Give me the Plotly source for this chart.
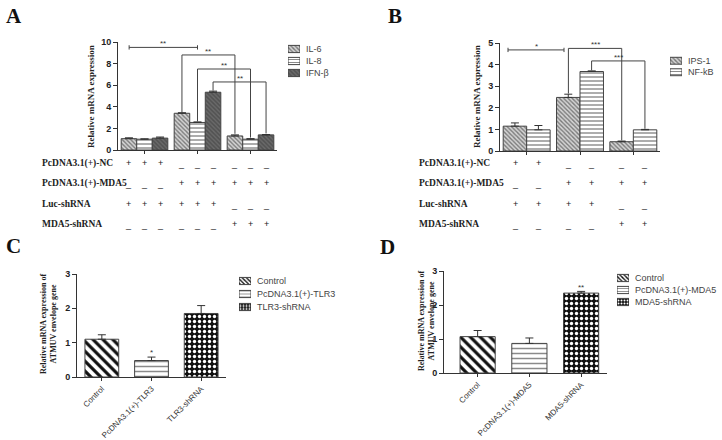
import plotly.graph_objects as go

W, H = 722, 440

# ---------------- data ----------------
a_groups = ["NC", "MDA5", "MDA5+shRNA"]
a_series = ["IL-6", "IL-8", "IFN-β"]
a_il6 = [1.05, 3.40, 1.30]
a_il6_err = [0.08, 0.05, 0.10]
a_il8 = [1.00, 2.55, 1.00]
a_il8_err = [0.03, 0.05, 0.05]
a_ifn = [1.10, 5.35, 1.40]
a_ifn_err = [0.10, 0.10, 0.03]

b_groups = ["NC", "MDA5", "MDA5+shRNA"]
b_series = ["IPS-1", "NF-kB"]
b_ips = [1.15, 2.48, 0.43]
b_ips_err = [0.15, 0.15, 0.03]
b_nfkb = [0.98, 3.68, 0.98]
b_nfkb_err = [0.20, 0.03, 0.02]

c_cats = ["Control", "PcDNA3.1(+)-TLR3", "TLR3-shRNA"]
c_vals = [1.10, 0.48, 1.85]
c_err = [0.13, 0.10, 0.23]

d_cats = ["Control", "PcDNA3.1(+)-MDA5", "MDA5-shRNA"]
d_vals = [1.07, 0.87, 2.35]
d_err = [0.18, 0.16, 0.05]

row_labels = ["PcDNA3.1(+)-NC", "PcDNA3.1(+)-MDA5", "Luc-shRNA", "MDA5-shRNA"]
a_table = [
    ["+", "+", "+", "_", "_", "_", "_", "_", "_"],
    ["_", "_", "_", "+", "+", "+", "+", "+", "+"],
    ["+", "+", "+", "+", "+", "+", "_", "_", "_"],
    ["_", "_", "_", "_", "_", "_", "+", "+", "+"],
]
b_table = [
    ["+", "+", "_", "_", "_", "_"],
    ["_", "_", "+", "+", "+", "+"],
    ["+", "+", "+", "+", "_", "_"],
    ["_", "_", "_", "_", "+", "+"],
]

# ---------------- styles ----------------
AX = "#333333"
SERIF = "Liberation Serif"
SANS = "Liberation Sans"
BAR_LINE = dict(color="#444444", width=1)

ab_styles = [
    dict(shape="\\", bgcolor="#d4d4d4", fgcolor="#7a7a7a", size=3, solidity=0.45),
    dict(shape="-", bgcolor="#ffffff", fgcolor="#8a8a8a", size=4, solidity=0.35),
    dict(shape="\\", bgcolor="#6a6a6a", fgcolor="#515151", size=3, solidity=0.5),
]
cd_styles = [
    dict(shape="\\", bgcolor="#ffffff", fgcolor="#111111", size=7, solidity=0.45),
    dict(shape="-", bgcolor="#ffffff", fgcolor="#8a8a8a", size=5, solidity=0.3),
    dict(shape=".", bgcolor="#111111", fgcolor="#ffffff", size=5, solidity=0.35),
]


def err(v):
    return dict(type="data", array=v, arrayminus=[0] * len(v), symmetric=False, visible=True,
                color="#333333", thickness=1, width=4)


def marker(st, size=None):
    p = dict(st)
    if size:
        p["size"] = size
    return dict(color=st["bgcolor"], line=BAR_LINE, pattern=dict(fillmode="replace", **p))


fig = go.Figure()

# Panel A bars
a_gap = 0.12
for name, vals, e, st in zip(a_series, [a_il6, a_il8, a_ifn],
                             [a_il6_err, a_il8_err, a_ifn_err], ab_styles):
    fig.add_trace(go.Bar(x=a_groups, y=vals, name=name, error_y=err(e), showlegend=False,
                         marker=marker(st), xaxis="x", yaxis="y"))

# Panel B bars
b_gap = 0.13
for name, vals, e, st in zip(b_series, [b_ips, b_nfkb], [b_ips_err, b_nfkb_err], ab_styles[:2]):
    fig.add_trace(go.Bar(x=b_groups, y=vals, name=name, error_y=err(e), showlegend=False,
                         marker=marker(st), xaxis="x2", yaxis="y2"))

# Panel C & D bars (one trace per bar so each gets its own fill pattern)
for cats, vals, e, xa, ya in [(c_cats, c_vals, c_err, "x3", "y3"),
                              (d_cats, d_vals, d_err, "x4", "y4")]:
    for i, cat in enumerate(cats):
        fig.add_trace(go.Bar(x=[cat], y=[vals[i]], name=cat, error_y=err([e[i]]),
                             width=0.68, offset=-0.34, showlegend=False,
                             marker=marker(cd_styles[i]), xaxis=xa, yaxis=ya))

# Legend swatches drawn as small horizontal bars in their own tiny axes
legend_specs = [
    ("x5", "y5", a_series, ab_styles, 3, 0.6),
    ("x6", "y6", b_series, ab_styles[:2], 3, 0.6),
    ("x7", "y7", c_cats, cd_styles, 3, 0.55),
    ("x8", "y8", d_cats, cd_styles, 3, 0.6),
]
for xa, ya, names, styles, sz, wd in legend_specs:
    for nm, st in zip(names, styles):
        fig.add_trace(go.Bar(x=[1], y=[nm], orientation="h", width=wd, offset=-wd / 2,
                             showlegend=False, hoverinfo="skip",
                             marker=marker(st, sz), xaxis=xa, yaxis=ya))


def px_x(p):
    return p / W


def px_y(p):
    return (H - p) / H


def xax(dom, rng):
    return dict(domain=[px_x(dom[0]), px_x(dom[1])], range=rng, showline=True, linecolor=AX,
                linewidth=1, ticks="outside", ticklen=3, tickcolor=AX, showgrid=False,
                zeroline=False, fixedrange=True, automargin=False)


def yax(dom, rng, dt, anchor):
    return dict(domain=[px_y(dom[1]), px_y(dom[0])], range=rng, dtick=dt, showline=True,
                linecolor=AX, linewidth=1, ticks="outside", ticklen=4, tickcolor=AX,
                showgrid=False, zeroline=False, anchor=anchor, automargin=False,
                fixedrange=True,
                tickfont=dict(family=SANS, size=9, color="#222", weight="bold"))


def lx(dom, anchor):
    return dict(domain=[px_x(dom[0]), px_x(dom[1])], range=[0, 1], visible=False,
                anchor=anchor, fixedrange=True)


def ly(dom, anchor, names):
    return dict(domain=[px_y(dom[1]), px_y(dom[0])], anchor=anchor, side="right",
                type="category", categoryorder="array", categoryarray=names,
                autorange="reversed", showline=False, showgrid=False, zeroline=False,
                ticks="", ticklabelstandoff=5, automargin=False, fixedrange=True,
                tickfont=dict(family=SANS, size=9, color="#444"))


tickf = dict(family=SANS, size=8, color="#333")
xa = xax((118, 277), [-0.5, 2.5]); xa.update(anchor="y", showticklabels=False)
xb = xax((500, 660), [-0.5, 2.5]); xb.update(anchor="y2", showticklabels=False)
xc = xax((77, 226), [-0.5, 2.5]); xc.update(anchor="y3", tickangle=-45, tickfont=tickf)
xd = xax((444, 607), [-0.65, 2.5]); xd.update(anchor="y4", tickangle=-45, tickfont=tickf)

fig.update_layout(
    width=W, height=H, margin=dict(l=0, r=0, t=0, b=0, autoexpand=False),
    paper_bgcolor="white", plot_bgcolor="white",
    barmode="group", bargap=a_gap, bargroupgap=0,
    showlegend=False,
    xaxis=xa, xaxis2=xb, xaxis3=xc, xaxis4=xd,
    yaxis=yax((42, 150), [0, 10], 2, "x"),
    yaxis2=yax((43, 151), [0, 5], 1, "x2"),
    yaxis3=yax((274, 377), [0, 3], 1, "x3"),
    yaxis4=yax((271, 373), [0, 3], 1, "x4"),
    xaxis5=lx((288, 300), "y5"), yaxis5=ly((43, 79), "x5", a_series),
    xaxis6=lx((670, 682), "y6"), yaxis6=ly((55, 78), "x6", b_series),
    xaxis7=lx((239, 251), "y7"), yaxis7=ly((274.5, 313.5), "x7", c_cats),
    xaxis8=lx((617, 629), "y8"), yaxis8=ly((272, 308), "x8", d_cats),
)

shapes = []
ann = []
LINE = dict(color="#444444", width=1)


def seg(x0, y0, x1, y1, xr, yr):
    shapes.append(dict(type="line", x0=x0, y0=y0, x1=x1, y1=y1, xref=xr, yref=yr, line=LINE))


def star(x, y, t, xr, yr):
    ann.append(dict(x=x, y=y, xref=xr, yref=yr, text=t, showarrow=False, xanchor="center",
                    yanchor="bottom", font=dict(family=SANS, size=8, color="#333"), yshift=-3))


# Panel A brackets
wa = (1 - a_gap) / 3
a_top = [[v + e for v, e in zip(s, es)] for s, es in
         [(a_il6, a_il6_err), (a_il8, a_il8_err), (a_ifn, a_ifn_err)]]
hy = 9.5
seg(-0.29, hy, 1.0, hy, "x", "y")
seg(-0.29, hy - 0.2, -0.29, hy + 0.2, "x", "y")
seg(1.0, hy - 0.2, 1.0, hy + 0.2, "x", "y")
star(0.35, hy, "**", "x", "y")
for k, by in zip(range(3), [8.8, 7.5, 6.3]):
    off = (k - 1) * wa
    x0, x1 = 1 + off, 2 + off
    seg(x0, a_top[k][1] + 0.05, x0, by, "x", "y")
    seg(x0, by, x1, by, "x", "y")
    seg(x1, by, x1, a_top[k][2] + 0.1, "x", "y")
    star((x0 + x1) / 2, by, "**", "x", "y")

# Panel B brackets
wb = (1 - b_gap) / 2
b_top = [[v + e for v, e in zip(b_ips, b_ips_err)], [v + e for v, e in zip(b_nfkb, b_nfkb_err)]]
hy = 4.68
seg(-0.35, hy, 0.7, hy, "x2", "y2")
seg(-0.35, hy - 0.1, -0.35, hy + 0.1, "x2", "y2")
seg(0.7, hy - 0.1, 0.7, hy + 0.1, "x2", "y2")
star(0.18, hy, "*", "x2", "y2")
for k, by in zip(range(2), [4.75, 4.17]):
    off = (k - 0.5) * wb
    x0, x1 = 1 + off, 2 + off
    seg(x0, b_top[k][1] + 0.03, x0, by, "x2", "y2")
    seg(x0, by, x1, by, "x2", "y2")
    seg(x1, by, x1, b_top[k][2] + 0.03, "x2", "y2")
    star((x0 + x1) / 2, by, "***", "x2", "y2")

# Panel C / D stars
star(1, c_vals[1] + c_err[1] + 0.02, "*", "x3", "y3")
star(2, d_vals[2] + d_err[2] + 0.02, "**", "x4", "y4")

# Tables of +/- below A and B
row_y = [163, 183, 204, 224]
for tbl, xr, width, nser, lab_x in [(a_table, "x", wa, 3, 40), (b_table, "x2", wb, 2, 417)]:
    for r, row in enumerate(tbl):
        ann.append(dict(x=px_x(lab_x), y=px_y(row_y[r]), xref="paper", yref="paper",
                        text="<b>" + row_labels[r] + "</b>", showarrow=False,
                        xanchor="left", yanchor="middle",
                        font=dict(family=SERIF, size=9.5, color="#222")))
        for j, s in enumerate(row):
            g, k = divmod(j, nser)
            xpos = g + (k - (nser - 1) / 2) * width
            ann.append(dict(x=xpos, y=px_y(row_y[r]), xref=xr, yref="paper", text=s,
                            showarrow=False, xanchor="center", yanchor="middle",
                            font=dict(family=SANS, size=9, color="#222"),
                            yshift=(-1 if s == "_" else 0)))

# Y-axis titles
for x, y, t, fs in [(91, 96, "<b>Relative mRNA expression</b>", 9),
                    (477, 97, "<b>Relative mRNA expression</b>", 9),
                    (48, 324, "<b>Relative mRNA expression of<br>ATMUV envelope gene</b>", 8),
                    (426, 321, "<b>Relative mRNA expression of<br>ATMUV envelope gene</b>", 8)]:
    ann.append(dict(x=px_x(x), y=px_y(y), xref="paper", yref="paper", text=t, textangle=-90,
                    showarrow=False, xanchor="center", yanchor="middle",
                    font=dict(family=SERIF, size=fs, color="#222")))

# Panel letters
for x, y, t in [(14, 16, "A"), (395, 16, "B"), (14, 246, "C"), (387, 247, "D")]:
    ann.append(dict(x=px_x(x), y=px_y(y), xref="paper", yref="paper", text="<b>" + t + "</b>",
                    showarrow=False, xanchor="center", yanchor="middle",
                    font=dict(family=SERIF, size=21, color="#111")))

fig.update_layout(shapes=shapes, annotations=ann)
fig.write_html("out.html", config={"displayModeBar": False},
               post_script="document.body.style.margin='0';")
